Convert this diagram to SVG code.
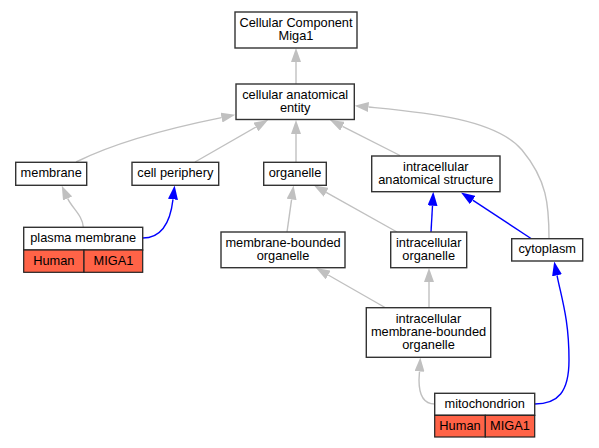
<svg xmlns="http://www.w3.org/2000/svg" width="599" height="448" viewBox="0 0 599 448">
<defs>
<style>
.box{fill:#fff;stroke:#333;stroke-width:1.4}
.red{fill:#ff6347;stroke:#222;stroke-width:1.2}
text{font-family:"Liberation Sans",Arial,sans-serif;font-size:12.8px;fill:#000;text-anchor:middle}
.eg{fill:none;stroke:#c0c0c0;stroke-width:1.4;marker-end:url(#ag)}
.eb{fill:none;stroke:#0000ff;stroke-width:1.4;marker-end:url(#ab)}
</style>
<marker id="ag" markerUnits="userSpaceOnUse" viewBox="0 0 14 10" refX="0" refY="5" markerWidth="14" markerHeight="10" orient="auto"><path d="M0,0 L14,5 L0,10 z" fill="#c0c0c0"/></marker>
<marker id="ab" markerUnits="userSpaceOnUse" viewBox="0 0 14 10" refX="0" refY="5" markerWidth="14" markerHeight="10" orient="auto"><path d="M0,0 L14,5 L0,10 z" fill="#0000ff"/></marker>
</defs>
<rect width="599" height="448" fill="#fff"/>
<g id="connectors">
<path class="eg" d="M296,84 L296,62"/>
<path class="eg" d="M76,162 C110,145 160,130 221.5,117.6"/>
<path class="eg" d="M195,162 L255.9,127"/>
<path class="eg" d="M296,162 L296,134"/>
<path class="eg" d="M400,155.5 L342.5,126.3"/>
<path class="eg" d="M549,238.5 C549,205 547,180 522,150 C495,118 420,112 368.5,107"/>
<path class="eg" d="M83.3,227.3 C83,216 72,208 67.6,198.4"/>
<path class="eb" d="M142.7,238 C160,238 170,225 173,199.3"/>
<path class="eg" d="M287,232 L291.6,199.4"/>
<path class="eg" d="M397,232 L326.2,192.3"/>
<path class="eb" d="M431,232 L432.5,205.7"/>
<path class="eb" d="M531,238.5 L472.7,200.1"/>
<path class="eg" d="M385,307.5 L328.2,275"/>
<path class="eg" d="M429,307.5 L429,282"/>
<path class="eg" d="M434.7,404 C423,404 419,395 419,380 L419.5,371.5"/>
<path class="eb" d="M534.7,404 C558,404 569,392 569,360 C569,320 562,300 557,275.3"/>
</g>
<g id="cellular_component_miga1">
<rect class="box" x="235" y="12" width="122" height="36"/>
<text x="296" y="26.8">Cellular Component</text>
<text x="296" y="39.8">Miga1</text>
</g>
<g id="cellular_anatomical_entity">
<rect class="box" x="236" y="84" width="118.3" height="35.5"/>
<text x="295.2" y="98.5">cellular anatomical</text>
<text x="295.2" y="111.5">entity</text>
</g>
<g id="membrane">
<rect class="box" x="15.7" y="162.3" width="71" height="23"/>
<text x="51.2" y="177.1">membrane</text>
</g>
<g id="cell_periphery">
<rect class="box" x="132" y="162.3" width="86.7" height="23"/>
<text x="175.3" y="177.1">cell periphery</text>
</g>
<g id="organelle">
<rect class="box" x="263.7" y="162.3" width="62.6" height="23"/>
<text x="295" y="177.1">organelle</text>
</g>
<g id="intracellular_anatomical_structure">
<rect class="box" x="371.7" y="156" width="128.3" height="35.7"/>
<text x="435.8" y="170.6">intracellular</text>
<text x="435.8" y="183.6">anatomical structure</text>
</g>
<g id="plasma_membrane">
<rect class="box" x="23.7" y="227.3" width="119" height="22.7"/>
<rect class="red" x="23.7" y="250" width="60.3" height="22.3"/>
<rect class="red" x="84" y="250" width="58.7" height="22.3"/>
<text x="83.2" y="241.9">plasma membrane</text>
<text x="53.8" y="265">Human</text>
<text x="113.4" y="265">MIGA1</text>
</g>
<g id="membrane_bounded_organelle">
<rect class="box" x="221" y="232" width="124" height="35.7"/>
<text x="283" y="246.6">membrane-bounded</text>
<text x="283" y="259.6">organelle</text>
</g>
<g id="intracellular_organelle">
<rect class="box" x="390.7" y="232" width="76" height="35.7"/>
<text x="428.7" y="246.6">intracellular</text>
<text x="428.7" y="259.6">organelle</text>
</g>
<g id="cytoplasm">
<rect class="box" x="511.7" y="238.7" width="71" height="22.3"/>
<text x="547.2" y="253.1">cytoplasm</text>
</g>
<g id="intracellular_membrane_bounded_organelle">
<rect class="box" x="366.3" y="307.7" width="124.4" height="49.6"/>
<text x="428.5" y="322.8">intracellular</text>
<text x="428.5" y="335.8">membrane-bounded</text>
<text x="428.5" y="348.8">organelle</text>
</g>
<g id="mitochondrion">
<rect class="box" x="434.7" y="393.3" width="100" height="22"/>
<rect class="red" x="434.7" y="415.3" width="50.6" height="21.7"/>
<rect class="red" x="485.3" y="415.3" width="49.4" height="21.7"/>
<text x="484.7" y="407.6">mitochondrion</text>
<text x="460" y="430">Human</text>
<text x="510" y="430">MIGA1</text>
</g>
</svg>
